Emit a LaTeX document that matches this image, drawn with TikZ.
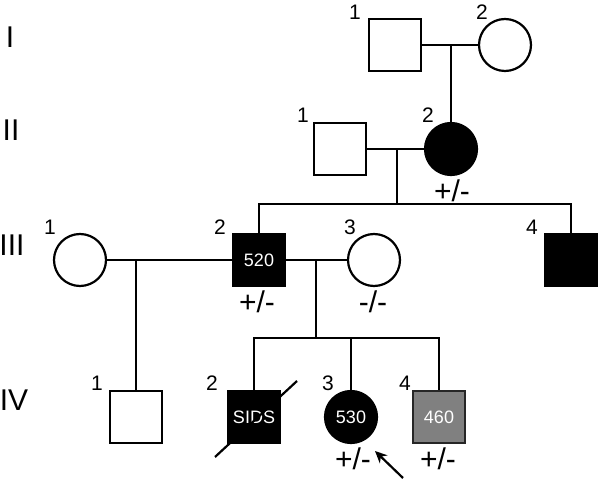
\documentclass[tikz,border=0pt]{standalone}
\usepackage{fontspec}
\setmainfont{Liberation Sans}
\usetikzlibrary{positioning, arrows.meta}

\begin{document}
\begin{tikzpicture}[x=1pt, y=-1pt, line width=2.2pt,
        male/.style={draw, rectangle, minimum size=52pt, inner sep=0pt, font=\fontsize{18}{18}\selectfont},
        female/.style={draw, circle, minimum size=52pt, inner sep=0pt, font=\fontsize{18}{18}\selectfont},
        affected/.style={fill=black, text=white},
        carrier/.style={fill=gray, draw=black!85, text=white},
        idnum/.style={inner sep=0pt, font=\fontsize{21}{21}\selectfont},
        geno/.style={inner sep=0pt, font=\fontsize{30}{30}\selectfont},
        gen/.style={inner sep=0pt, font=\fontsize{30}{30}\selectfont}]

    \useasboundingbox (0,0) rectangle (600,481);

    % generations
    \node[gen] (gI)   at (10,37)  {I};
    \node[gen] (gII)  at (11,130) {II};
    \node[gen] (gIII) at (12,245) {III};
    \node[gen] (gIV)  at (14,400) {IV};

    % generation I
    \node[male]   (I1) at (395,45) {};
    \node[female] (I2) at (505,45) {};
    \node[idnum] (nI1) at (355,12) {1};
    \node[idnum] (nI2) at (482,12) {2};

    % generation II
    \node[male]            (II1) at (340,149) {};
    \node[female,affected] (II2) at (451,149) {};
    \node[idnum] (nII1) at (303,115) {1};
    \node[idnum] (nII2) at (428,115) {2};
    \node[geno]  (gII2) at (452,191) {+/-};

    % generation III
    \node[female]        (III1) at (80,260)  {};
    \node[male,affected] (III2) at (259,260) {520};
    \node[female]        (III3) at (374,260) {};
    \node[male,affected] (III4) at (571,260) {};
    \node[idnum] (nIII1) at (50,227)  {1};
    \node[idnum] (nIII2) at (220,227) {2};
    \node[idnum] (nIII3) at (350,227) {3};
    \node[idnum] (nIII4) at (532,227) {4};
    \node[geno]  (gIII2) at (257,302) {+/-};
    \node[geno]  (gIII3) at (373,302) {-/-};

    % generation IV
    \node[male]            (IV1) at (136,417) {};
    \node[male,affected]   (IV2) at (254,417) {SIDS};
    \node[female,affected] (IV3) at (351,417) {530};
    \node[male,carrier]    (IV4) at (439,417) {460};
    \node[idnum] (nIV1) at (97,383)  {1};
    \node[idnum] (nIV2) at (212,383) {2};
    \node[idnum] (nIV3) at (328,383) {3};
    \node[idnum] (nIV4) at (405,383) {4};
    \node[geno]  (gIV3) at (353,459) {+/-};
    \node[geno]  (gIV4) at (438,459) {+/-};

    % marriages and offspring
    \coordinate (mI)    at (451,45);
    \coordinate (mII)   at (397,149);
    \coordinate (sIII)  at (397,204);
    \coordinate (mIIIa) at (136,260);
    \coordinate (mIIIb) at (316,260);
    \coordinate (sIV)   at (316,338);

    \draw (I1) -- (I2);
    \draw (mI) -- (II2.north);
    \draw (II1) -- (II2);
    \draw (mII) -- (sIII);
    \draw (III2.north) |- (sIII) -| (III4.north);
    \draw (III1) -- (III2);
    \draw (mIIIa) -- (IV1.north);
    \draw (III2) -- (III3);
    \draw (mIIIb) -- (sIV);
    \draw (IV2.north) |- (sIV) -| (IV4.north);
    \draw (IV3.north) -- (IV3.north |- sIV);

    % deceased and proband
    \draw ([shift={(-39,40)}]IV2.center) -- ([shift={(43,-36)}]IV2.center);
    \draw[-{Stealth[length=12pt,width=11pt]}] ([shift={(52,61)}]IV3.center) -- ([shift={(24,34)}]IV3.center);

\end{tikzpicture}
\end{document}
